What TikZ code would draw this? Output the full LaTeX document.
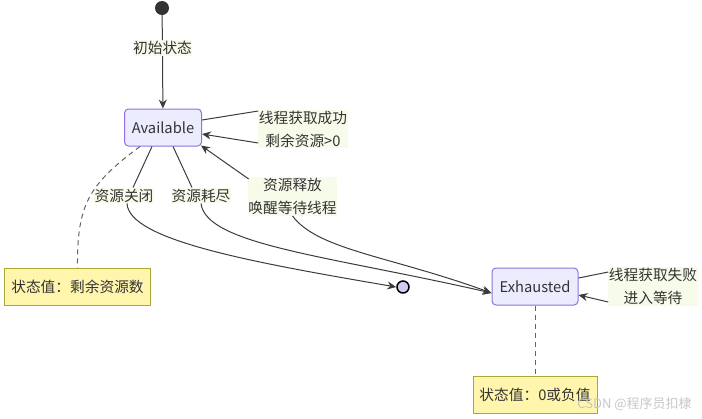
\documentclass[tikz,border=0pt]{standalone}
\usepackage{fontspec}
\setmainfont{Noto Sans CJK SC}
\usetikzlibrary{arrows.meta,calc}
\definecolor{statefill}{HTML}{ECECFF}
\definecolor{statedraw}{HTML}{9370DB}
\definecolor{notefill}{HTML}{FFF5AD}
\definecolor{notedraw}{HTML}{AAAA33}
\definecolor{lblfill}{HTML}{F7FBEA}
\definecolor{linec}{HTML}{3C3C3C}
\definecolor{txt}{HTML}{333333}
\definecolor{endfill}{HTML}{CDCDF5}
\tikzset{
  every node/.style={font=\fontsize{14.7bp}{23bp}\selectfont, text=txt},
  statebox/.style={draw=statedraw, fill=statefill, line width=1bp, rounded corners=4bp, minimum height=37bp, inner sep=0pt},
  notebox/.style={draw=notedraw, fill=notefill, line width=1bp, minimum height=37bp, inner sep=0pt},
  elabel/.style={fill=lblfill, inner xsep=0.5bp, inner ysep=1bp, align=center},
  conn/.style={draw=linec, line width=1bp},
  arr/.style={conn, -{Stealth[length=9bp,width=8bp,inset=3bp]}},
  notelink/.style={draw=linec!80, line width=1bp, dash pattern=on 5bp off 4bp},
}
\begin{document}
\begin{tikzpicture}[x=1bp,y=-1bp]
\useasboundingbox (0,0) rectangle (702,418);
% states
\node[circle, fill=txt, minimum size=14bp, inner sep=0pt] (start) at (162,8) {};
\node[statebox, minimum width=77bp] (avail) at (163,127.5) {Available};
\node[statebox, minimum width=86bp] (exh) at (535,286.5) {Exhausted};
\node[circle, draw=black, fill=endfill, line width=1.5bp, minimum size=12bp, inner sep=0pt] (endst) at (403,287) {};
% notes
\node[notebox, minimum width=145bp] (note1) at (77.5,286.5) {状态值：剩余资源数};
\node[notebox, minimum width=124bp] (note2) at (535,395) {状态值：0或负值};
% label nodes
\node[elabel] (linit) at (162.5,48) {初始状态};
\node[elabel] (lsucc) at (303,129) {线程获取成功\\剩余资源>0};
\node[elabel] (lrel) at (292.5,196.5) {资源释放\\唤醒等待线程};
\node[elabel] (lclose) at (124,195.5) {资源关闭};
\node[elabel] (lexh) at (201,195.5) {资源耗尽};
\node[elabel] (lfail) at (653,286.5) {线程获取失败\\进入等待};
% connectors
\draw[conn] (start) -- (linit);
\draw[arr] (linit) -- (avail);
\draw[conn] ([yshift=7.5bp]avail.east) -- ([yshift=18bp]lsucc.west);
\draw[arr] ([yshift=-14bp]lsucc.west) -- ([yshift=-6.5bp]avail.east);
\draw[arr] ([xshift=1bp,yshift=-2bp]lrel.north west) -- ([xshift=-1bp,yshift=1bp]avail.south east);
\draw[conn] ([xshift=-11bp]avail.south) -- ([xshift=9bp]lclose.north);
\draw[conn] ([xshift=10bp]avail.south) -- ([xshift=-9bp]lexh.north);
\draw[arr] ([xshift=3bp]lclose.south) .. controls (129,240) and (250,262) .. (endst.west);
\draw[arr] (lexh.south) .. controls (206,245) and (330,256) .. ([yshift=-6.5bp]exh.west);
\draw[arr] (lrel.south) .. controls (318,250) and (390,256) .. ([yshift=-6.5bp]exh.west);
\draw[conn] ([yshift=8.5bp]exh.east) -- ([yshift=14.5bp]lfail.west);
\draw[arr] ([yshift=-15.5bp]lfail.west) -- ([yshift=-8.5bp]exh.east);
% note links
\draw[notelink] ([xshift=-23bp]avail.south) .. controls (88,185) and (77,205) .. (note1.north);
\draw[notelink] (exh.south) -- (note2.north);
% watermark
\node[font=\fontsize{13bp}{15bp}\selectfont, text=black!22] (wm) at (634.5,404) {CSDN @程序员扣棣};
\end{tikzpicture}
\end{document}
